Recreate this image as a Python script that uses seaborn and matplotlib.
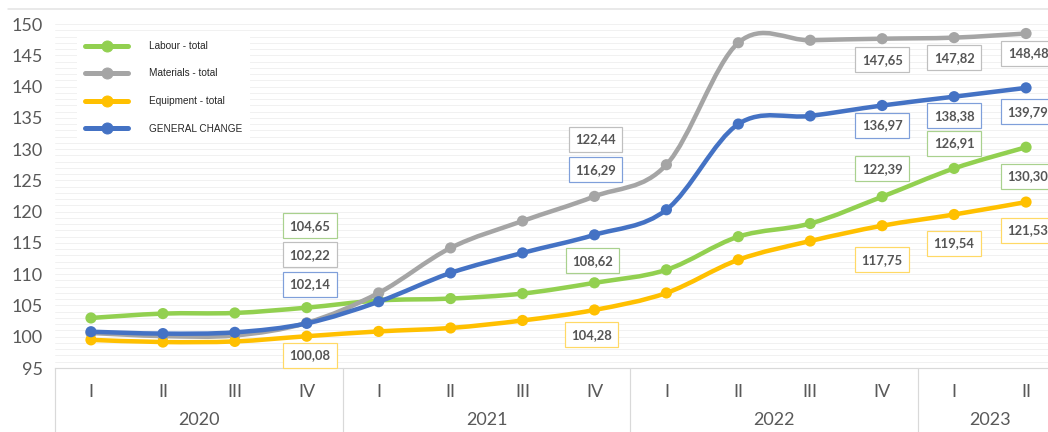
import matplotlib
matplotlib.use("Agg")
import matplotlib.pyplot as plt
import matplotlib.transforms as mtransforms
from matplotlib.path import Path
from matplotlib.patches import PathPatch
from matplotlib.lines import Line2D
import seaborn as sns
import pandas as pd

# data
quarters = ["I", "II", "III", "IV", "I", "II", "III", "IV", "I", "II", "III", "IV", "I", "II"]
years = ["2020", "2021", "2022", "2023"]
year_centers = [1.5, 5.5, 9.5, 12.5]

labour = [103.0, 103.7, 103.8, 104.65, 105.8, 106.1, 106.9, 108.62, 110.7, 116.0, 118.1, 122.39, 126.91, 130.30]
materials = [100.6, 100.1, 100.2, 102.22, 107.0, 114.2, 118.5, 122.44, 127.5, 147.0, 147.4, 147.65, 147.82, 148.48]
equipment = [99.5, 99.15, 99.25, 100.08, 100.85, 101.4, 102.6, 104.28, 107.0, 112.3, 115.3, 117.75, 119.54, 121.53]
general = [100.8, 100.5, 100.7, 102.14, 105.6, 110.2, 113.4, 116.29, 120.3, 134.0, 135.3, 136.97, 138.38, 139.79]

series_names = ["Labour - total", "Materials - total", "Equipment - total", "GENERAL CHANGE"]
labelled = [3, 7, 11, 12, 13]

# styling
colors = ["#92D050", "#A5A5A5", "#FFC000", "#4472C4"]
box_colors = ["#A9D18E", "#BFBFBF", "#FFD966", "#7F9FDA"]
label_offsets = [
    [(3, 82), (-2, 22), (0, 28), (0, 25), (2, -29)],
    [(3, 68), (1, 57), (0, -21), (0, -20), (2, -20)],
    [(3, -19), (-3, -25), (0, -34), (0, -29), (2, -28)],
    [(3, 39), (1, 65), (0, -20), (0, -19), (2, -24)],
]


def smooth_path(xs, ys):
    """Excel-like smoothed line (Catmull-Rom as cubic Bezier)"""
    n = len(xs)
    verts = [(xs[0], ys[0])]
    codes = [Path.MOVETO]
    for i in range(n - 1):
        a = max(i - 1, 0)
        b = min(i + 2, n - 1)
        verts.append((xs[i] + (xs[i + 1] - xs[a]) / 6, ys[i] + (ys[i + 1] - ys[a]) / 6))
        verts.append((xs[i + 1] - (xs[b] - xs[i]) / 6, ys[i + 1] - (ys[b] - ys[i]) / 6))
        verts.append((xs[i + 1], ys[i + 1]))
        codes += [Path.CURVE4] * 3
    return Path(verts, codes)


sns.set_theme(style="white")
plt.rcParams["font.family"] = ["Lato", "DejaVu Sans"]

W, H, DPI = 1048, 432, 72
fig = plt.figure(figsize=(W / DPI, H / DPI), dpi=DPI)
ax = fig.add_axes([55 / W, 64 / H, 1007 / W, 344 / H])

pos = list(range(len(quarters)))
all_series = [labour, materials, equipment, general]

for i, (vals, col) in enumerate(zip(all_series, colors)):
    ax.add_patch(PathPatch(smooth_path(pos, vals), fill=False, ec=col, lw=4.5,
                           capstyle="round", joinstyle="round", zorder=3 + i * 0.1))
    df = pd.DataFrame({"pos": pos, "value": vals})
    sns.scatterplot(data=df, x="pos", y="value", color=col, s=125, edgecolor="none",
                    ax=ax, zorder=3.05 + i * 0.1, legend=False)

# data labels
for i, vals in enumerate(all_series):
    for k, idx in enumerate(labelled):
        dx, dy = label_offsets[i][k]
        txt = f"{vals[idx]:.2f}".replace(".", ",")
        ax.annotate(txt, (idx, vals[idx]), xytext=(dx, dy), textcoords="offset points",
                    ha="center", va="center", fontsize=13, fontweight="bold", color="#555555",
                    bbox=dict(boxstyle="square,pad=0.5", fc="white", ec=box_colors[i], lw=1.2),
                    zorder=10)

ax.set_xlim(-0.5, 13.5)
ax.set_ylim(95, 150)
ax.set_xlabel("")
ax.set_ylabel("")
ax.set_yticks(range(95, 151, 5))
ax.set_yticks(range(95, 151), minor=True)
ax.set_xticks(pos, quarters)
ax.grid(which="both", axis="y", color="#eeeeee", lw=0.8)
ax.grid(False, axis="x")
ax.set_axisbelow(True)
ax.tick_params(axis="y", which="both", length=0, pad=12, labelsize=18, labelcolor="#595959")
ax.tick_params(axis="x", length=0, pad=16, labelsize=18, labelcolor="#595959")
for s in ["top", "right", "left"]:
    ax.spines[s].set_visible(False)
ax.spines["bottom"].set_color("#d9d9d9")
ax.spines["bottom"].set_linewidth(1.2)

# year group labels and separators
trans = mtransforms.blended_transform_factory(ax.transData, ax.transAxes)
for x in [-0.5, 3.5, 7.5, 11.5]:
    ax.plot([x, x], [0, -0.25], transform=trans, clip_on=False, color="#d9d9d9", lw=1.2)
for yc, yr in zip(year_centers, years):
    ax.text(yc, -52 / 344, yr, transform=trans, ha="center", va="center",
            fontsize=18, color="#595959")

# chart border line on top
fig.add_artist(Line2D([8 / W, 1], [1 - 9 / H, 1 - 9 / H], color="#e2e2e2", lw=1.5))

handles = [Line2D([], [], color=c, lw=5, marker="o", markersize=11) for c in colors]
fig.legend(handles, series_names, loc="upper left", bbox_to_anchor=(72 / W, 1 - 28 / H),
           prop={"family": "Liberation Sans", "size": 10}, frameon=True, facecolor="white",
           edgecolor="none", framealpha=1, fancybox=False, handlelength=4.3,
           handletextpad=2.1, labelspacing=1.75, borderpad=0.8)

fig.savefig("out.png", dpi=DPI)
